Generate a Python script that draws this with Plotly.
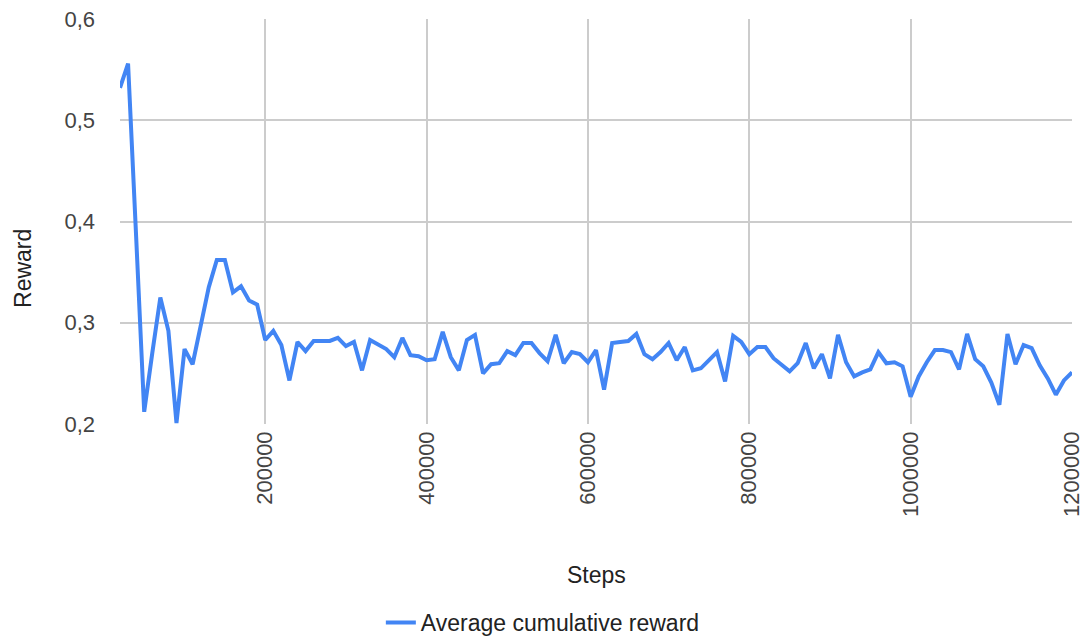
import plotly.graph_objects as go

# Training steps (every 10k) and the averaged cumulative reward at each step
steps = list(range(20000, 1200001, 10000))
avg_reward = [
    0.532, 0.556, 0.385, 0.212, 0.270, 0.325, 0.292, 0.201, 0.274, 0.259,
    0.297, 0.335, 0.362, 0.362, 0.330, 0.336, 0.322, 0.318, 0.283, 0.292,
    0.278, 0.243, 0.281, 0.272, 0.282, 0.282, 0.282, 0.285, 0.277, 0.281,
    0.253, 0.283, 0.278, 0.274, 0.266, 0.285, 0.268, 0.267, 0.263, 0.264,
    0.291, 0.266, 0.253, 0.283, 0.288, 0.250, 0.259, 0.260, 0.272, 0.268,
    0.280, 0.280, 0.270, 0.262, 0.288, 0.260, 0.271, 0.269, 0.261, 0.273,
    0.234, 0.280, 0.281, 0.282, 0.289, 0.269, 0.264, 0.271, 0.280, 0.263,
    0.276, 0.253, 0.255, 0.263, 0.271, 0.242, 0.287, 0.281, 0.269, 0.276,
    0.276, 0.265, 0.258, 0.252, 0.260, 0.280, 0.255, 0.269, 0.245, 0.288,
    0.261, 0.247, 0.251, 0.254, 0.271, 0.260, 0.261, 0.257, 0.227, 0.247,
    0.261, 0.273, 0.273, 0.271, 0.254, 0.289, 0.264, 0.257, 0.241, 0.219,
    0.289, 0.259, 0.278, 0.275, 0.258, 0.245, 0.229, 0.243, 0.251,
]
x_ticks = [200000, 400000, 600000, 800000, 1000000, 1200000]
y_ticks = [0.2, 0.3, 0.4, 0.5, 0.6]

FONT = "Liberation Sans, Arial, sans-serif"
GRID = "#cccccc"
TICK_SIZE = 22
TITLE_SIZE = 23

fig = go.Figure()
fig.add_trace(go.Scatter(
    x=steps,
    y=avg_reward,
    mode="lines",
    name="Average cumulative reward",
    line=dict(color="#4285F4", width=4),
))

fig.update_layout(
    width=1086,
    height=636,
    margin=dict(l=120, r=14, t=19, b=212, autoexpand=False),
    paper_bgcolor="white",
    plot_bgcolor="white",
    separators=",.",
    font=dict(family=FONT, size=TICK_SIZE, color="#444444"),
    showlegend=True,
    legend=dict(
        orientation="h",
        x=0.274,
        xanchor="left",
        y=-0.49,
        yanchor="middle",
        font=dict(family=FONT, size=TITLE_SIZE, color="#222222"),
        bgcolor="rgba(0,0,0,0)",
    ),
    annotations=[
        dict(text="Reward", textangle=-90, xref="paper", yref="paper",
             x=-0.102, y=0.385, xanchor="center", yanchor="middle",
             showarrow=False, font=dict(family=FONT, size=TITLE_SIZE, color="#222222")),
        dict(text="Steps", xref="paper", yref="paper",
             x=0.501, y=-0.373, xanchor="center", yanchor="middle",
             showarrow=False, font=dict(family=FONT, size=TITLE_SIZE, color="#222222")),
    ],
)

fig.update_xaxes(
    range=[20000, 1200000],
    tickvals=x_ticks,
    tickformat="d",
    tickangle=-90,
    showgrid=True,
    gridcolor=GRID,
    gridwidth=1.5,
    zeroline=False,
    showline=False,
    ticks="",
    ticklabelstandoff=2,
    automargin=False,
    tickfont=dict(family=FONT, size=TICK_SIZE, color="#444444"),
)
fig.update_yaxes(
    range=[0.2, 0.6],
    tickvals=y_ticks,
    tickformat=".1f",
    showgrid=True,
    gridcolor=GRID,
    gridwidth=1.5,
    zeroline=False,
    showline=False,
    ticks="",
    ticklabelstandoff=24,
    automargin=False,
    tickfont=dict(family=FONT, size=TICK_SIZE, color="#444444"),
)

fig.write_html("out.html")
